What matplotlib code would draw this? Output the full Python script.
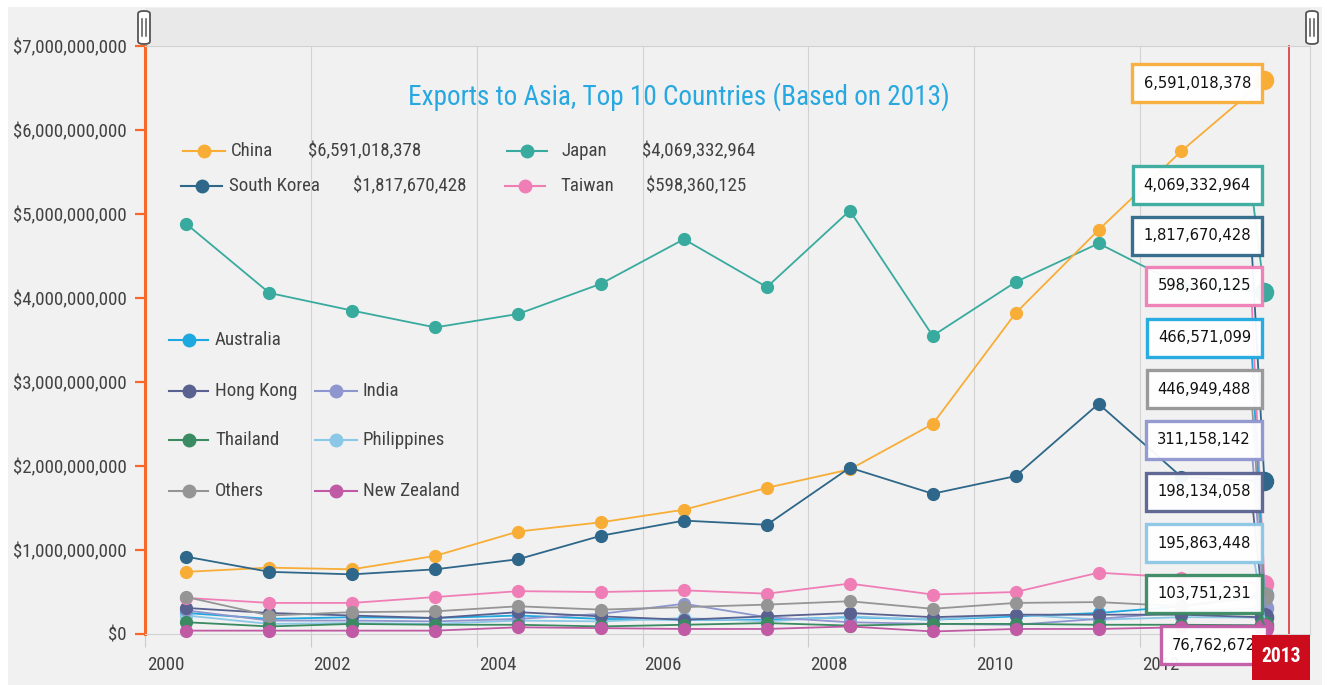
import numpy as np
import matplotlib
matplotlib.use('Agg')
import matplotlib.pyplot as plt
from matplotlib import font_manager as fm
from matplotlib.lines import Line2D
from matplotlib.patches import Rectangle, FancyBboxPatch
from matplotlib.ticker import FuncFormatter
import matplotlib.transforms as mtransforms

# ---------------- data ----------------
years = list(range(2000, 2014))
x_ticks = [2000, 2002, 2004, 2006, 2008, 2010, 2012]
y_ticks = [0, 1e9, 2e9, 3e9, 4e9, 5e9, 6e9, 7e9]
title = "Exports to Asia, Top 10 Countries (Based on 2013)"

china = [0.74e9, 0.79e9, 0.77e9, 0.93e9, 1.22e9, 1.33e9, 1.48e9, 1.74e9, 1.96e9, 2.50e9, 3.82e9, 4.81e9, 5.75e9, 6591018378]
japan = [4.88e9, 4.06e9, 3.85e9, 3.65e9, 3.81e9, 4.17e9, 4.70e9, 4.13e9, 5.04e9, 3.55e9, 4.19e9, 4.65e9, 4.15e9, 4069332964]
south_korea = [0.92e9, 0.74e9, 0.71e9, 0.77e9, 0.89e9, 1.17e9, 1.35e9, 1.30e9, 1.98e9, 1.67e9, 1.88e9, 2.74e9, 1.87e9, 1817670428]
taiwan = [0.43e9, 0.37e9, 0.37e9, 0.44e9, 0.51e9, 0.50e9, 0.52e9, 0.48e9, 0.60e9, 0.47e9, 0.50e9, 0.73e9, 0.67e9, 598360125]
australia = [0.25e9, 0.18e9, 0.20e9, 0.19e9, 0.22e9, 0.18e9, 0.17e9, 0.17e9, 0.20e9, 0.17e9, 0.21e9, 0.25e9, 0.33e9, 466571099]
others = [0.44e9, 0.22e9, 0.26e9, 0.27e9, 0.33e9, 0.29e9, 0.32e9, 0.35e9, 0.39e9, 0.30e9, 0.37e9, 0.38e9, 0.33e9, 446949488]
india = [0.28e9, 0.16e9, 0.16e9, 0.15e9, 0.18e9, 0.24e9, 0.36e9, 0.20e9, 0.14e9, 0.12e9, 0.11e9, 0.18e9, 0.26e9, 311158142]
hong_kong = [0.31e9, 0.25e9, 0.22e9, 0.19e9, 0.26e9, 0.21e9, 0.17e9, 0.21e9, 0.25e9, 0.20e9, 0.23e9, 0.23e9, 0.23e9, 198134058]
philippines = [0.22e9, 0.12e9, 0.13e9, 0.12e9, 0.16e9, 0.15e9, 0.19e9, 0.15e9, 0.21e9, 0.17e9, 0.23e9, 0.17e9, 0.20e9, 195863448]
thailand = [0.14e9, 0.09e9, 0.12e9, 0.11e9, 0.11e9, 0.09e9, 0.11e9, 0.13e9, 0.10e9, 0.12e9, 0.12e9, 0.11e9, 0.11e9, 103751231]
new_zealand = [0.04e9, 0.04e9, 0.04e9, 0.04e9, 0.08e9, 0.07e9, 0.06e9, 0.06e9, 0.09e9, 0.03e9, 0.06e9, 0.06e9, 0.08e9, 76762672]

# ---------------- style ----------------
W, H = 1327, 685
colors = {
    'China': '#f8ad37', 'Japan': '#38aa9e', 'South Korea': '#2e6789', 'Taiwan': '#f07eb6',
    'Australia': '#1ea8e0', 'Hong Kong': '#596190', 'India': '#8e96cf', 'Thailand': '#3a8a62',
    'Philippines': '#8bc7e6', 'Others': '#959595', 'New Zealand': '#c05aa5',
}
series = {
    'China': china, 'Japan': japan, 'South Korea': south_korea, 'Taiwan': taiwan,
    'Australia': australia, 'Hong Kong': hong_kong, 'India': india, 'Thailand': thailand,
    'Philippines': philippines, 'Others': others, 'New Zealand': new_zealand,
}
draw_order = ['Australia', 'Philippines', 'India', 'Hong Kong', 'Thailand', 'Taiwan',
              'Others', 'New Zealand', 'Japan', 'China', 'South Korea']


def pick(fams):
    for f in fams:
        try:
            fm.findfont(fm.FontProperties(family=f), fallback_to_default=False)
            return f
        except Exception:
            pass
    return 'DejaVu Sans'


FONT = pick(['Roboto Condensed', 'Liberation Sans Narrow', 'Liberation Sans', 'DejaVu Sans'])
K = 1.18 if FONT in ('Roboto Condensed', 'Liberation Sans Narrow') else 1.0
plt.rcParams['font.family'] = [FONT, 'DejaVu Sans']
TXT = '#424242'
FS = 11.5 * K

fig = plt.figure(figsize=(W / 100, H / 100), dpi=100, facecolor='white')


def fx(x):
    return x / W


def fy(y):
    return 1 - y / H


def prect(x0, y0, x1, y1, **kw):
    r = Rectangle((fx(x0), fy(y1)), fx(x1) - fx(x0), fy(y0) - fy(y1),
                  transform=fig.transFigure, **kw)
    fig.add_artist(r)
    return r


# background panels
prect(8, 7, 1322, 685, facecolor='#f1f1f1', edgecolor='none', zorder=-10)
prect(145, 8, 1311, 46, facecolor='#e9e9e9', edgecolor='none', zorder=-9)

ax = fig.add_axes([fx(145), fy(634), fx(1310) - fx(145), fy(46) - fy(634)])
ax.set_facecolor('none')
ax.set_xlim(2000, 2014.05)
ax.set_ylim(0, 7e9)

xs = np.array(years) + 0.5  # values are plotted at mid-year

z = 3
for name in draw_order:
    vals = series[name]
    c = colors[name]
    ax.plot(xs, vals, color=c, lw=1.3, marker='o', ms=8.5, mec=c, mfc=c, zorder=z,
            clip_on=False)
    ax.plot(xs[-1:], vals[-1:], 'o', color=c, ms=13, zorder=z, clip_on=False)
    z += 0.1

# axes styling
for s in ['top', 'right', 'bottom']:
    ax.spines[s].set_color('#d2d2d2')
    ax.spines[s].set_linewidth(0.8)
ax.spines['left'].set_color('#f7692b')
ax.spines['left'].set_linewidth(2.2)

ax.set_yticks(y_ticks)
ax.yaxis.set_major_formatter(FuncFormatter(lambda v, p: '$' + format(int(round(v)), ',')))
ax.tick_params(axis='y', colors='#f7692b', length=7, width=1.6, pad=6,
               labelcolor=TXT, labelsize=FS)
ax.set_xticks(x_ticks)
ax.set_xticklabels([str(t) for t in x_ticks])
ax.tick_params(axis='x', colors='#cccccc', length=9, width=0.8, pad=7,
               labelcolor=TXT, labelsize=FS)
off = mtransforms.ScaledTranslation(0.02, 0, fig.dpi_scale_trans)
for lbl in ax.get_xticklabels():
    lbl.set_ha('left')
    lbl.set_transform(lbl.get_transform() + off)
ax.grid(axis='x', color='#d2d2d2', lw=0.8, zorder=0)
ax.set_axisbelow(True)

# cursor line
ax.plot([0.982, 0.982], [0, 1], transform=ax.transAxes, color='#d8454b', lw=1.3,
        zorder=2, clip_on=False)

# title
fig.text(fx(679), fy(97), title, ha='center', va='center', fontsize=16.6 * K,
         color='#27a8e0')

# legend helpers
def leg_item(x0, x1, y, color, label, tx, value=None, vx=None):
    xm = (x0 + x1) / 2
    fig.add_artist(Line2D([fx(x0), fx(xm), fx(x1)], [fy(y)] * 3, transform=fig.transFigure,
                          color=color, lw=1.5, marker='o', ms=9, markevery=[1], mfc=color, mec=color))
    fig.text(fx(tx), fy(y), label, ha='left', va='center', fontsize=FS, color=TXT)
    if value is not None:
        fig.text(fx(vx), fy(y), value, ha='left', va='center', fontsize=FS, color=TXT)


def money(v):
    return '$' + format(int(v), ',')


leg_item(183, 225, 151, colors['China'], 'China', 231, money(china[-1]), 308)
leg_item(181, 222, 186, colors['South Korea'], 'South Korea', 229, money(south_korea[-1]), 353)
leg_item(507, 547, 151, colors['Japan'], 'Japan', 562, money(japan[-1]), 642)
leg_item(505, 545, 186, colors['Taiwan'], 'Taiwan', 560, money(taiwan[-1]), 646)

leg_item(169, 208, 340, colors['Australia'], 'Australia', 215)
leg_item(169, 208, 391, colors['Hong Kong'], 'Hong Kong', 215)
leg_item(169, 208, 440, colors['Thailand'], 'Thailand', 215)
leg_item(169, 208, 491, colors['Others'], 'Others', 215)
leg_item(315, 357, 391, colors['India'], 'India', 363)
leg_item(315, 357, 440, colors['Philippines'], 'Philippines', 363)
leg_item(315, 357, 491, colors['New Zealand'], 'New Zealand', 363)

# value labels at the right
label_order = ['China', 'Japan', 'South Korea', 'Taiwan', 'Australia', 'Others', 'India',
               'Hong Kong', 'Philippines', 'Thailand', 'New Zealand']
label_y = [83, 185, 236, 286, 338, 389, 440, 492, 543, 594, 645]
label_r = [1263] * 10 + [1268]
box_font = fm.FontProperties(family='DejaVu Sans', stretch='condensed', size=11.8)
for name, yy, rr in zip(label_order, label_y, label_r):
    vals = series[name]
    c = colors[name]
    ax.annotate(format(int(vals[-1]), ','), xy=(xs[-1], vals[-1]), xycoords='data',
                xytext=(rr - 12, H - yy), textcoords='figure pixels',
                ha='right', va='center', fontproperties=box_font, color='#111111',
                bbox=dict(boxstyle='square,pad=0.68', fc='white', ec=c, lw=2.4, alpha=0.95),
                arrowprops=dict(arrowstyle='-', color=c, lw=1.3, relpos=(1, 0.5),
                                shrinkA=0, shrinkB=0),
                annotation_clip=False, zorder=20)

# year badge
prect(1252, 635, 1310, 680, facecolor='#cc0b1c', edgecolor='none', zorder=30)
fig.text(fx(1281), fy(657), '2013', ha='center', va='center', fontsize=12 * K,
         color='white', fontweight='bold', zorder=31)

# navigator handles
for hx in (144, 1312):
    fig.add_artist(FancyBboxPatch((fx(hx - 6), fy(44)), fx(12), fy(11) - fy(44),
                                  boxstyle='round,pad=0,rounding_size=0.004',
                                  transform=fig.transFigure, fc='white', ec='#555555',
                                  lw=1.3, zorder=5))
    for dx in (-1.8, 1.8):
        fig.add_artist(Line2D([fx(hx + dx)] * 2, [fy(19), fy(36)], transform=fig.transFigure,
                              color='#555555', lw=1.1, zorder=6))

fig.savefig('out.png', dpi=100, facecolor='white')
